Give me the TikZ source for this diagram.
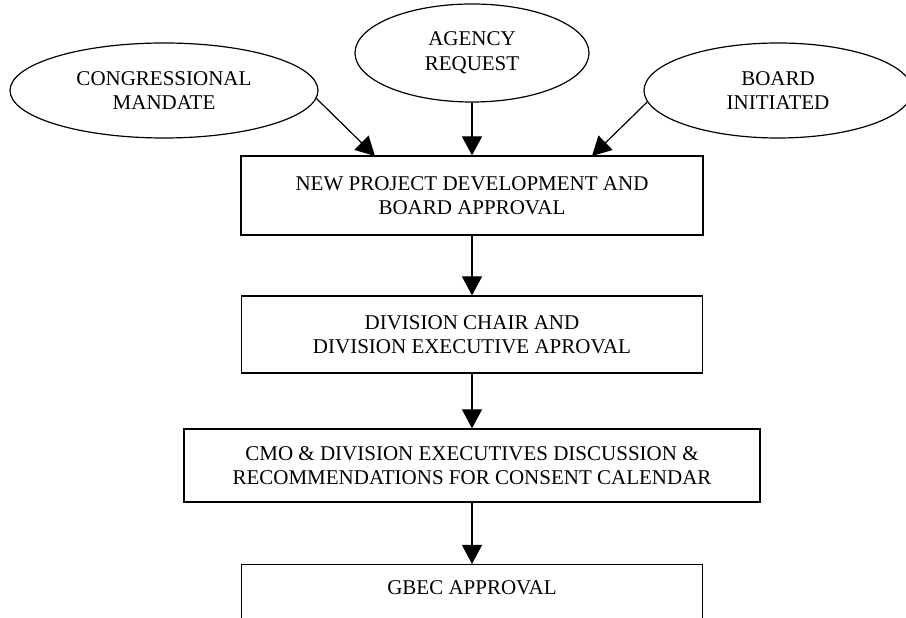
\documentclass[tikz,border=0pt]{standalone}
\usepackage{fontspec}
\setmainfont{Liberation Serif}
\usetikzlibrary{arrows.meta,shapes.geometric}
\begin{document}
\begin{tikzpicture}[x=1pt,y=1pt,
  every node/.style={font=\fontsize{21}{24.5}\selectfont, align=center, inner sep=0pt},
  oval/.style={draw, ellipse, line width=1.2pt},
  box/.style={draw, rectangle, line width=1.2pt},
  arr/.style={line width=1.2pt, -{Triangle[length=19pt,width=20pt]}}]
\useasboundingbox (0,0) rectangle (906,618);
% ellipses
\node[oval, minimum width=308pt, minimum height=95pt] (cm) at (164,527.5) {CONGRESSIONAL\\MANDATE};
\node[oval, minimum width=234pt, minimum height=98pt] (ag) at (472,565) {AGENCY\\REQUEST};
\node[oval, minimum width=268pt, minimum height=95pt] (bi) at (778,527.5) {BOARD\\INITIATED};
% boxes
\node[box, minimum width=462pt, minimum height=79pt] (np) at (472,422.5) {NEW PROJECT DEVELOPMENT AND\\BOARD APPROVAL};
\node[box, minimum width=461pt, minimum height=77pt] (dc) at (472,283.5) {DIVISION CHAIR AND\\DIVISION EXECUTIVE APROVAL};
\node[box, minimum width=576pt, minimum height=73pt] (cmo) at (472,152.5) {CMO \& DIVISION EXECUTIVES DISCUSSION \&\\RECOMMENDATIONS FOR CONSENT CALENDAR};
\node[box, minimum width=461pt, minimum height=100pt, anchor=north] (gb) at (472,54) {};
\node (gbt) at (472,30) {GBEC APPROVAL};
% arrow end points
\coordinate (npl) at (375,462);
\coordinate (npr) at (592,462);
% connectors
\draw[arr] (cm.-3.5) -- (npl);
\draw[arr] (ag.south) -- (np.north);
\draw[arr] (bi.185) -- (npr);
\draw[arr] (np.south) -- (dc.north);
\draw[arr] (dc.south) -- (cmo.north);
\draw[arr] (cmo.south) -- (gb.north);
\end{tikzpicture}
\end{document}
